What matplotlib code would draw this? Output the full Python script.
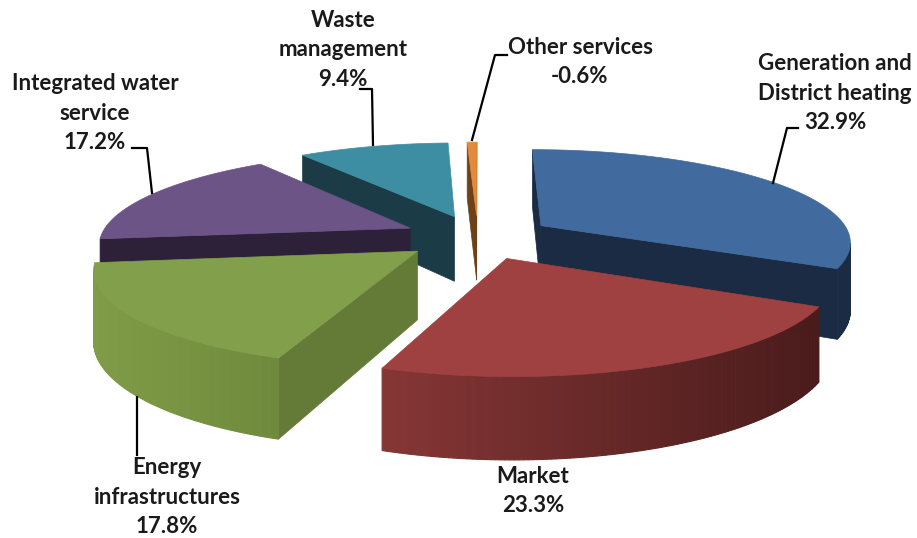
import numpy as np
import matplotlib.pyplot as plt
from matplotlib.patches import Polygon
from matplotlib.colors import to_rgb

# data
names = ['Generation and\nDistrict heating', 'Market', 'Energy\ninfrastructures',
         'Integrated water\nservice', 'Waste\nmanagement', 'Other services']
values = [32.9, 23.3, 17.8, 17.2, 9.4, -0.6]

# styles
top_colors = ['#416a9f', '#9f4140', '#82a04b', '#6c5487', '#3e8ea3', '#e48a3a']
radial_colors = ['#1b2b44', '#5a2222', '#647b37', '#2d2139', '#1b3b46', '#6e4218']
side_left = ['#1b2b44', '#853635', '#819c47', '#2d2139', '#1b3b46', '#7a4a1a']
side_right = ['#1b2b44', '#4a1b1b', '#6f8a3c', '#2d2139', '#1b3b46', '#7a4a1a']

label_pos = [(835, 93), (533, 491), (167, 497), (95, 113), (343, 50), (580, 62)]
leaders = [[(798, 128), (787, 128), (773, 183)],
           None,
           [(137, 397), (137, 455)],
           [(132, 148), (147, 148), (152, 193)],
           [(360, 89), (372, 89), (373, 145)],
           [(507, 55), (495, 55), (472, 140)]]

# projection of the pie (pixel space)
CX, CY = 478, 237
R, RY, K, H = 310, 91.5, 0.16, 67
E = 0.243


def proj(X, Y, z):
    s = 1.0 / (1.0 + K * Y)
    return CX + R * X * s, CY - RY * Y * s + z * H * s


def area(pts):
    p = np.asarray(pts)
    x, y = p[:, 0], p[:, 1]
    return 0.5 * np.sum(x * np.roll(y, -1) - np.roll(x, -1) * y)


def wall(p1, p2):
    return [proj(*p1, 0), proj(*p2, 0), proj(*p2, 1), proj(*p1, 1)]


fig = plt.figure(figsize=(9.17, 5.38), dpi=100)
ax = fig.add_axes([0, 0, 1, 1])
ax.set_xlim(0, 917)
ax.set_ylim(538, 0)
ax.axis('off')

sizes = np.abs(values)
fr = sizes / sizes.sum()
a_start = 90 - 360 * np.concatenate([[0], np.cumsum(fr)[:-1]])
a_end = a_start - 360 * fr
mids = (a_start + a_end) / 2

# back slices first
order = sorted(range(len(values)), key=lambda i: -np.sin(np.radians(mids[i])))

for i in order:
    m = np.radians(mids[i])
    ox, oy = E * np.cos(m), E * np.sin(m)
    th = np.radians(np.linspace(a_end[i], a_start[i], 120))
    arc = list(zip(ox + np.cos(th), oy + np.sin(th)))
    apex = (ox, oy)

    # radial walls
    for p1, p2 in [(apex, arc[0]), (arc[-1], apex)]:
        q = wall(p1, p2)
        if area(q) > 0:
            ax.add_patch(Polygon(q, closed=True, fc=radial_colors[i],
                                 ec=radial_colors[i], lw=0.5))
    # outer curved wall
    segs = []
    for j in range(len(arc) - 1):
        q = wall(arc[j], arc[j + 1])
        if area(q) > 0:
            segs.append(q)
    if segs:
        xs = [np.mean([p[0] for p in q]) for q in segs]
        x0, x1 = min(xs), max(xs)
        cl, cr = np.array(to_rgb(side_left[i])), np.array(to_rgb(side_right[i]))
        for q, xm in zip(segs, xs):
            t = 0 if x1 == x0 else (xm - x0) / (x1 - x0)
            c = cl + (cr - cl) * t
            ax.add_patch(Polygon(q, closed=True, fc=c, ec=c, lw=0.8))
    # top face
    top = [proj(*apex, 0)] + [proj(*p, 0) for p in arc]
    ax.add_patch(Polygon(top, closed=True, fc=top_colors[i], ec=top_colors[i], lw=0.5))

plt.rcParams['font.family'] = ['Lato', 'DejaVu Sans']
for i in range(len(values)):
    txt = f'{names[i]}\n{values[i]:.1f}%'
    ax.text(label_pos[i][0], label_pos[i][1], txt, ha='center', va='center',
            multialignment='center', fontsize=16, fontweight='bold',
            color='#1a1a1a', linespacing=1.5)
    if leaders[i]:
        lx, ly = zip(*leaders[i])
        ax.plot(lx, ly, color='black', lw=1.6)

fig.savefig('out.png', dpi=100)
